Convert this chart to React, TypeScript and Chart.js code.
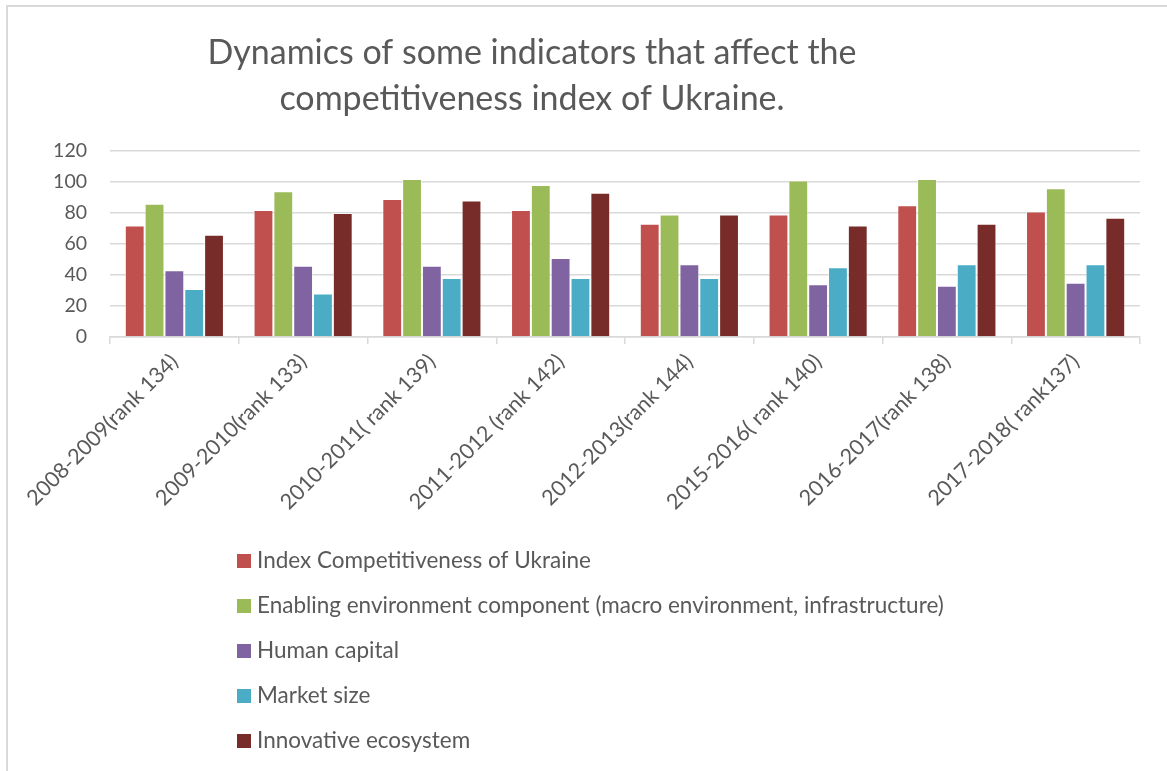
import React, { useEffect, useRef } from "react";
import { Chart, registerables } from "chart.js";

Chart.register(...registerables);

const categories = [
  "2008-2009(rank 134)",
  "2009-2010(rank 133)",
  "2010-2011( rank 139)",
  "2011-2012 (rank 142)",
  "2012-2013(rank 144)",
  "2015-2016( rank 140)",
  "2016-2017(rank 138)",
  "2017-2018( rank137)",
];

const indexCompetitiveness = [72, 82, 89, 82, 73, 79, 85, 81];
const enablingEnvironment = [86, 94, 102, 98, 79, 101, 102, 96];
const humanCapital = [43, 46, 46, 51, 47, 34, 33, 35];
const marketSize = [31, 28, 38, 38, 38, 45, 47, 47];
const innovativeEcosystem = [66, 80, 88, 93, 79, 72, 73, 77];

const seriesNames = [
  "Index Competitiveness of Ukraine",
  "Enabling environment component (macro environment, infrastructure)",
  "Human capital",
  "Market size",
  "Innovative ecosystem",
];
const seriesColors = ["#C0504D", "#9BBB59", "#8064A2", "#4BACC6", "#772C2A"];
const seriesValues = [
  indexCompetitiveness,
  enablingEnvironment,
  humanCapital,
  marketSize,
  innovativeEcosystem,
];

const titleLines = [
  "Dynamics of some indicators that affect the",
  "competitiveness index of Ukraine.",
];

const FONT = "Lato, 'Open Sans', sans-serif";
const TEXT = "#595959";
const GRID = "#D9D9D9";

const decorPlugin = {
  id: "decor",
  beforeDraw(chart: any) {
    const ctx = chart.ctx;
    ctx.save();
    ctx.fillStyle = "#ffffff";
    ctx.fillRect(0, 0, chart.width, chart.height);
    ctx.strokeStyle = GRID;
    ctx.lineWidth = 2;
    ctx.strokeRect(7, 6, chart.width + 20, chart.height + 20);
    ctx.restore();
  },
  afterDraw(chart: any) {
    const ctx = chart.ctx;
    ctx.save();
    // title
    ctx.fillStyle = TEXT;
    ctx.font = `34px ${FONT}`;
    ctx.textAlign = "center";
    ctx.textBaseline = "alphabetic";
    ctx.fillText(titleLines[0], 532, 64);
    ctx.fillText(titleLines[1], 532, 110);
    // legend
    ctx.font = `22.5px ${FONT}`;
    ctx.textAlign = "left";
    const ds = chart.data.datasets;
    ds.forEach((d: any, i: number) => {
      const top = 554 + i * 45;
      ctx.fillStyle = d.backgroundColor;
      ctx.fillRect(237, top, 14, 14);
      ctx.fillStyle = TEXT;
      ctx.fillText(d.label, 257, top + 14);
    });
    ctx.restore();
  },
};

export default function App() {
  const ref = useRef<HTMLCanvasElement>(null);
  useEffect(() => {
    if (!ref.current) return;
    const chart = new Chart(ref.current, {
      type: "bar",
      data: {
        labels: categories,
        datasets: seriesNames.map((name, i) => ({
          label: name,
          data: seriesValues[i],
          backgroundColor: seriesColors[i],
          borderColor: "rgba(255,255,255,0.45)",
          borderWidth: 1,
          categoryPercentage: 0.77,
          barPercentage: 1.0,
        })),
      },
      options: {
        responsive: false,
        animation: false,
        events: [],
        layout: { padding: { top: 151, left: 0, right: 27, bottom: 214 } },
        plugins: {
          legend: { display: false },
          title: { display: false },
          tooltip: { enabled: false },
        },
        scales: {
          x: {
            offset: true,
            grid: {
              display: true,
              offset: true,
              drawOnChartArea: false,
              drawTicks: true,
              tickLength: 7,
              color: GRID,
              lineWidth: 1.5,
            },
            border: { display: true, color: GRID, width: 1.5 },
            ticks: {
              color: TEXT,
              font: { family: FONT, size: 21.5 },
              maxRotation: 45,
              minRotation: 45,
              autoSkip: false,
              padding: 5,
            },
            afterFit(scale: any) {
              scale.height = 220;
            },
          },
          y: {
            min: 0,
            max: 120,
            grid: {
              color: GRID,
              lineWidth: 1.5,
              drawTicks: false,
            },
            border: { display: false },
            ticks: {
              stepSize: 20,
              color: TEXT,
              font: { family: FONT, size: 19.5 },
              padding: 23,
            },
            afterFit(scale: any) {
              scale.width = 110;
            },
          },
        },
      },
      plugins: [decorPlugin],
    });
    return () => chart.destroy();
  }, []);
  return (
    <div style={{ position: "absolute", left: 0, top: 0, width: 1167, height: 771, background: "#fff" }}>
      <canvas ref={ref} width={1167} height={771} style={{ display: "block" }} />
    </div>
  );
}
